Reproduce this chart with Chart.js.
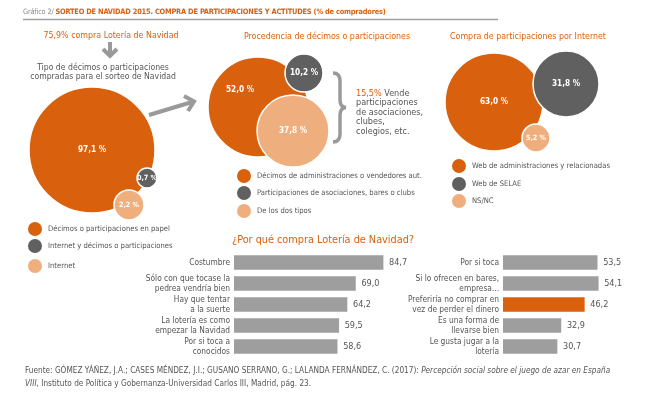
<!DOCTYPE html>
<html><head><meta charset="utf-8">
<script src="https://cdn.jsdelivr.net/npm/chart.js@4.4.0/dist/chart.umd.min.js"></script>
<style>
html,body{margin:0;padding:0;background:#fff;}
#wrap{position:relative;width:650px;height:399px;overflow:hidden;background:#fff;font-family:"Liberation Sans Narrow","DejaVu Sans Condensed",Roboto,sans-serif;color:#555;}
.t{position:absolute;white-space:nowrap;line-height:1;}
canvas{position:absolute;}
.dot{position:absolute;width:14px;height:14px;border-radius:50%;}
svg{position:absolute;left:0;top:0;}
</style></head>
<body><div id="wrap">
<canvas id="bubbles" width="650" height="399" style="left:0;top:0"></canvas>
<canvas id="barsL" width="340" height="105" style="left:100px;top:252px"></canvas>
<canvas id="barsR" width="340" height="105" style="left:369px;top:252px"></canvas>
<svg width="650" height="399">
  <line x1="23" y1="19.5" x2="498" y2="19.5" stroke="#a0a0a0" stroke-width="1.5"/>
  <g stroke="#9a9a9a" stroke-width="4" fill="none" stroke-linecap="butt" stroke-linejoin="miter">
    <line x1="110" y1="42" x2="110" y2="55"/>
    <polyline points="103,49 110,56 117,49"/>
    <line x1="149" y1="115" x2="192" y2="102"/>
    <polyline points="184,96 194,101.5 188,111"/>
  </g>
  <path d="M333,73 Q340,73 340,81 L340,100 Q340,107 346,107.5 Q340,108 340,115 L340,134 Q340,142 333,142" stroke="#9a9a9a" stroke-width="3.5" fill="none"/>
</svg>
<div id="texts"></div>
</div>
<script>
// ---------- DATA ----------
const chartTitlePrefix = 'Gráfico 2/';
const chartTitle = 'SORTEO DE NAVIDAD 2015. COMPRA DE PARTICIPACIONES Y ACTITUDES (% de compradores)';
const lotteryBuyersPct = 75.9;
const clubSellersPct = 15.5;

const typeLabels = ['Décimos o participaciones en papel', 'Internet y décimos o participaciones', 'Internet'];
const typeValues = [97.1, 0.7, 2.2];

const originLabels = ['Décimos de administraciones o vendedores aut.', 'Participaciones de asociaciones, bares o clubs', 'De los dos tipos'];
const originValues = [52.0, 10.2, 37.8];

const internetLabels = ['Web de administraciones y relacionadas', 'Web de SELAE', 'NS/NC'];
const internetValues = [63.0, 31.8, 5.2];

const reasonsLeft = [['Costumbre'], ['Sólo con que tocase la', 'pedrea vendría bien'], ['Hay que tentar', 'a la suerte'], ['La lotería es como', 'empezar la Navidad'], ['Por si toca a', 'conocidos']];
const reasonsLeftValues = [84.7, 69.0, 64.2, 59.5, 58.6];
const reasonsRight = [['Por si toca'], ['Si lo ofrecen en bares,', 'empresa...'], ['Preferiría no comprar en', 'vez de perder el dinero'], ['Es una forma de', 'llevarse bien'], ['Le gusta jugar a la', 'lotería']];
const reasonsRightValues = [53.5, 54.1, 46.2, 32.9, 30.7];
const highlightedReason = 'Preferiría no comprar en';

// ---------- STYLE / LAYOUT ----------
const FONT = '"Liberation Sans Narrow","DejaVu Sans Condensed",Roboto,sans-serif';
const ORANGE = '#d9600d', DARK = '#606060', LIGHT = '#efae7e', GRAY = '#9e9e9e', TXT = '#555';
const COLORS = [ORANGE, DARK, LIGHT];
// bubble placement (canvas units) and radii
const bubbleLayout = {
  type:     [{x: 92,  y: 150, r: 63}, {x: 147, y: 178, r: 10}, {x: 129, y: 205, r: 15}],
  origin:   [{x: 258, y: 107, r: 50}, {x: 304, y: 73,  r: 19}, {x: 293, y: 131, r: 36}],
  internet: [{x: 494, y: 102, r: 49}, {x: 566, y: 84,  r: 33}, {x: 536, y: 138, r: 14}]
};
const labelOffset = {origin: [{dx: -18, dy: -17}, {dx: 0, dy: 0}, {dx: 0, dy: 0}]};

const fmt = v => v.toFixed(1).replace('.', ',');
Chart.defaults.font.family = FONT;

// ---------- HTML TEXTS ----------
const texts = document.getElementById('texts');
function addText(html, x, y, size, opts = {}) {
  const d = document.createElement('div');
  d.className = 't';
  d.innerHTML = html;
  d.style.fontSize = size + 'px';
  d.style.top = (y - size / 2) + 'px';
  if (opts.color) d.style.color = opts.color;
  if (opts.align === 'center') { d.style.left = x + 'px'; d.style.transform = 'translateX(-50%)'; d.style.textAlign = 'center'; }
  else d.style.left = x + 'px';
  if (opts.lh) { d.style.lineHeight = opts.lh; }
  if (opts.ls) { d.style.letterSpacing = opts.ls; }
  if (opts.top != null) d.style.top = opts.top + 'px';
  texts.appendChild(d);
  return d;
}
addText('<span style="color:#8a8a8a">' + chartTitlePrefix + '</span> <b style="color:' + ORANGE + '">' + chartTitle + '</b>', 23, 12, 7.4, {ls: '-0.2px'});
addText(fmt(lotteryBuyersPct) + '% compra Lotería de Navidad', 111, 35, 8.8, {color: ORANGE, align: 'center'});
addText('Tipo de décimos o participaciones', 103, 67, 8.6, {align: 'center'});
addText('compradas para el sorteo de Navidad', 103, 76.5, 8.6, {align: 'center'});
addText('Procedencia de décimos o participaciones', 327, 36, 8.8, {color: ORANGE, align: 'center'});
addText('Compra de participaciones por Internet', 528, 36, 8.8, {color: ORANGE, align: 'center'});
addText('<span style="color:' + ORANGE + '">' + fmt(clubSellersPct) + '%</span> Vende<br>participaciones<br>de asociaciones,<br>clubes,<br>colegios, etc.', 356, 0, 9, {lh: '9.6px', top: 88.5});
addText('¿Por qué compra Lotería de Navidad?', 232, 240, 10.8, {color: ORANGE});
addText('Fuente: GÓMEZ YÁÑEZ, J.A.; CASES MÉNDEZ, J.I.; GUSANO SERRANO, G.; LALANDA FERNÁNDEZ, C. (2017): <i>Percepción social sobre el juego de azar en España</i>', 25, 370, 8.2);
addText('<i>VIII</i>, Instituto de Política y Gobernanza-Universidad Carlos III, Madrid, pág. 23.', 25, 383, 8.2);

function legend(labels, x, ys) {
  labels.forEach((l, i) => {
    const d = document.createElement('div');
    d.className = 'dot';
    d.style.left = (x - 7) + 'px'; d.style.top = (ys[i] - 7) + 'px';
    d.style.background = COLORS[i];
    texts.appendChild(d);
    addText(l, x + 13, ys[i], 7.6);
  });
}
legend(typeLabels, 35, [229, 246, 266]);
legend(originLabels, 244, [176, 193, 211]);
legend(internetLabels, 459, [166, 184, 201]);

// ---------- BUBBLES ----------
const bubbleLabels = {
  id: 'bubbleLabels',
  afterDatasetsDraw(chart) {
    const ctx = chart.ctx;
    ctx.save();
    ctx.fillStyle = '#fff';
    ctx.textAlign = 'center';
    ctx.textBaseline = 'middle';
    chart.data.datasets.forEach((ds, di) => {
      const meta = chart.getDatasetMeta(di);
      meta.data.forEach((el, i) => {
        const off = (labelOffset[ds.key] || [])[i] || {dx: 0, dy: 0};
        const r = ds.data[i].r;
        ctx.font = 'bold ' + (r < 16 ? 7.2 : 8.2) + 'px ' + FONT;
        ctx.fillText(fmt(ds.values[i]) + ' %', el.x + off.dx, el.y + off.dy);
      });
    });
    ctx.restore();
  }
};
function bubbleDataset(key, values) {
  return {
    key, values,
    data: values.map((v, i) => ({x: bubbleLayout[key][i].x, y: bubbleLayout[key][i].y, r: bubbleLayout[key][i].r})),
    backgroundColor: COLORS, borderColor: '#fff', borderWidth: 1.5
  };
}
new Chart(document.getElementById('bubbles'), {
  type: 'bubble',
  data: {datasets: [bubbleDataset('type', typeValues), bubbleDataset('origin', originValues), bubbleDataset('internet', internetValues)]},
  options: {
    responsive: false, animation: false, events: [],
    layout: {autoPadding: false, padding: 0},
    plugins: {legend: {display: false}, tooltip: {enabled: false}},
    scales: {x: {type: 'linear', min: 0, max: 650, display: false}, y: {type: 'linear', min: 0, max: 399, reverse: true, display: false}}
  },
  plugins: [bubbleLabels]
});

// ---------- BARS ----------
const valueLabels = {
  id: 'valueLabels',
  afterDatasetsDraw(chart) {
    const ctx = chart.ctx;
    ctx.save();
    ctx.fillStyle = TXT;
    ctx.font = '9px ' + FONT;
    ctx.textAlign = 'left';
    ctx.textBaseline = 'middle';
    const meta = chart.getDatasetMeta(0);
    meta.data.forEach((el, i) => ctx.fillText(fmt(chart.data.datasets[0].data[i]), el.x + 6, el.y));
    ctx.restore();
  }
};
function barChart(id, cats, vals) {
  new Chart(document.getElementById(id), {
    type: 'bar',
    data: {labels: cats, datasets: [{data: vals, backgroundColor: cats.map(c => c[0] === highlightedReason ? ORANGE : GRAY), barThickness: 14}]},
    options: {
      indexAxis: 'y', responsive: false, animation: false, events: [],
      layout: {padding: {left: 0, right: 30, top: 0, bottom: 0}},
      plugins: {legend: {display: false}, tooltip: {enabled: false}},
      scales: {
        x: {display: false, min: 0, max: 100},
        y: {grid: {display: false, drawTicks: false}, border: {display: false},
            ticks: {color: TXT, padding: 4, autoSkip: false, font: {size: 8.3, lineHeight: 1.2}},
            afterFit(s) { s.width = 134; s.paddingTop = 0; s.paddingBottom = 0; }}
      }
    },
    plugins: [valueLabels]
  });
}
barChart('barsL', reasonsLeft, reasonsLeftValues);
barChart('barsR', reasonsRight, reasonsRightValues);
</script>
</body></html>
